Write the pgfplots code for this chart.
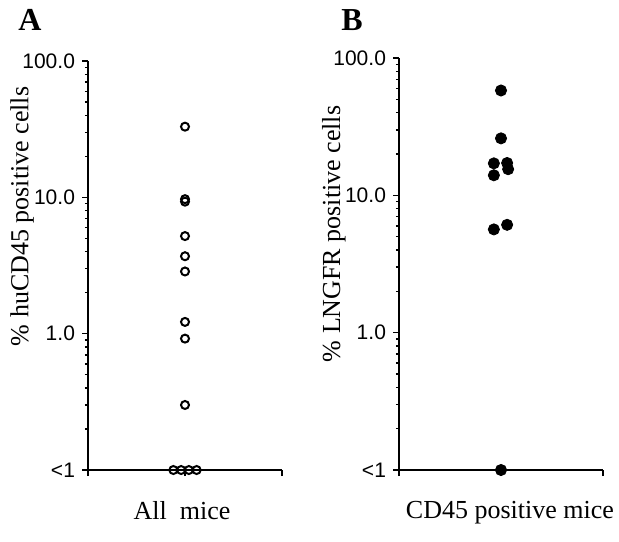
\documentclass[border=0pt]{standalone}
\usepackage{fontspec}
\setmainfont{Liberation Serif}
\setsansfont{Liberation Sans}
\usepackage{pgfplots}
\pgfplotsset{compat=1.18}

\begin{document}
\begin{tikzpicture}
\useasboundingbox (0,0) rectangle (309.5pt,-270.5pt);

\node[font=\bfseries\fontsize{16}{17}\selectfont] at (15pt,-10pt) {A};
\node[font=\bfseries\fontsize{16}{17}\selectfont] at (176pt,-10pt) {B};

% panel A (1 px of the reference = 0.5pt)
\begin{axis}[
    ymode=log, ymin=0.1, ymax=100,
    xmin=0, xmax=2,
    scale only axis,
    at={(44pt,-235pt)}, anchor=south west,
    width=97pt, height=204.5pt,
    axis lines*=left,
    axis line style={line width=0.8pt},
    xtick={0,1,2}, xticklabels={},
    ytick={0.1,1,10,100},
    yticklabels={<1,1.0,10.0,100.0},
    minor ytick={0.2,0.3,0.4,0.5,0.6,0.7,0.8,0.9,2,3,4,5,6,7,8,9,20,30,40,50,60,70,80,90},
    tick align=outside,
    major tick length=3pt, minor tick length=1.6pt,
    every tick/.style={black, line width=0.7pt},
    tick label style={font=\sffamily\fontsize{10.5}{12}\selectfont},
    clip=false,
    every axis y label/.style={at={(axis description cs:-0.34,0.62)}, rotate=90, anchor=center,
        font=\fontsize{13}{15}\selectfont},
    every axis x label/.style={at={(axis description cs:0.485,-0.122)}, anchor=base,
        font=\fontsize{13}{15}\selectfont},
    ylabel={\% huCD45 positive cells},
    xlabel={All\ \ mice},
]
\addplot[only marks, mark=o, mark size=2pt, line width=1pt, black] coordinates {
(1,33) (1,9.7) (1,9.3) (1,5.2) (1,3.7) (1,2.86) (1,1.22) (1,0.92) (1,0.30)
(0.88,0.1) (0.96,0.1) (1.04,0.1) (1.12,0.1)
};
\end{axis}

% panel B
\begin{axis}[
    ymode=log, ymin=0.1, ymax=100,
    xmin=0, xmax=2,
    scale only axis,
    at={(199.5pt,-235pt)}, anchor=south west,
    width=102pt, height=206pt,
    axis lines*=left,
    axis line style={line width=0.8pt},
    xtick={0,1,2}, xticklabels={},
    ytick={0.1,1,10,100},
    yticklabels={<1,1.0,10.0,100.0},
    minor ytick={0.2,0.3,0.4,0.5,0.6,0.7,0.8,0.9,2,3,4,5,6,7,8,9,20,30,40,50,60,70,80,90},
    tick align=outside,
    major tick length=3pt, minor tick length=1.6pt,
    every tick/.style={black, line width=0.7pt},
    tick label style={font=\sffamily\fontsize{10.5}{12}\selectfont},
    clip=false,
    every axis y label/.style={at={(axis description cs:-0.319,0.573)}, rotate=90, anchor=center,
        font=\fontsize{13}{15}\selectfont},
    every axis x label/.style={at={(axis description cs:0.544,-0.117)}, anchor=base,
        font=\fontsize{13}{15}\selectfont},
    ylabel={\% LNGFR positive cells},
    xlabel={CD45 positive mice},
]
\addplot[only marks, mark=*, mark size=2.8pt, black] coordinates {
(1,58) (1,26) (0.93,17.1) (1.06,17.2) (0.93,14.0) (1.07,15.5)
(0.93,5.65) (1.06,6.1) (1,0.1)
};
\end{axis}
\end{tikzpicture}
\end{document}
